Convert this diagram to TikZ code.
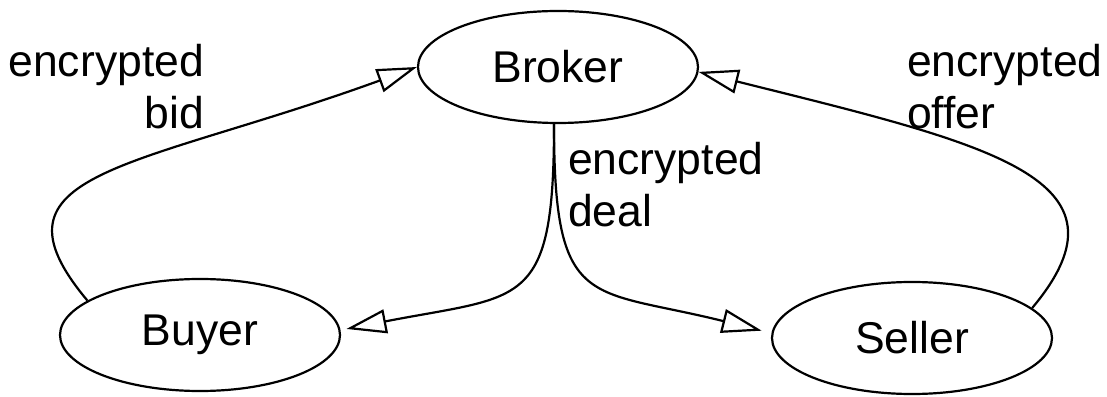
\documentclass[tikz,border=0pt]{standalone}
\usepackage{fontspec}
\setmainfont{Liberation Sans}
\usetikzlibrary{arrows.meta,shapes.geometric}

\begin{document}
\begin{tikzpicture}[x=1pt, y=1pt, line width=2.2pt,
  party/.style={draw, ellipse, inner sep=0pt, minimum width=280pt, minimum height=112pt},
  msg/.style={inner sep=0pt},
  >={Triangle[open, length=40pt, width=24pt]},
  every node/.style={font=\fontsize{44.5}{52}\selectfont}]
  \useasboundingbox (0,0) rectangle (1107,396);
  \node[party] (Broker) at (558,329) {Broker};
  \node[party] (Buyer) at (200,61) {Buyer};
  \node[party] (Seller) at (912,58) {Seller};

  \node[msg, align=right, anchor=north east] (bid) at (205,353) {encrypted\\bid};
  \node[msg, align=left, anchor=north west] (offer) at (906,353) {encrypted\\offer};
  \node[msg, align=left, anchor=north west] (deal) at (567,255) {encrypted\\deal};

  \path[->]
  (Buyer.163) edge [out=130, in=200, out distance=170pt, in distance=300pt] (Broker.west)
  (Seller.14) edge [out=50, in=-14, out distance=170pt, in distance=300pt] (Broker.-2)
  (Broker.266) edge [out=270, in=11, looseness=1.6, shorten >=6pt] (Buyer.2)
               edge [out=270, in=166, looseness=1.6, shorten >=10pt] (Seller.178);
\end{tikzpicture}
\end{document}
